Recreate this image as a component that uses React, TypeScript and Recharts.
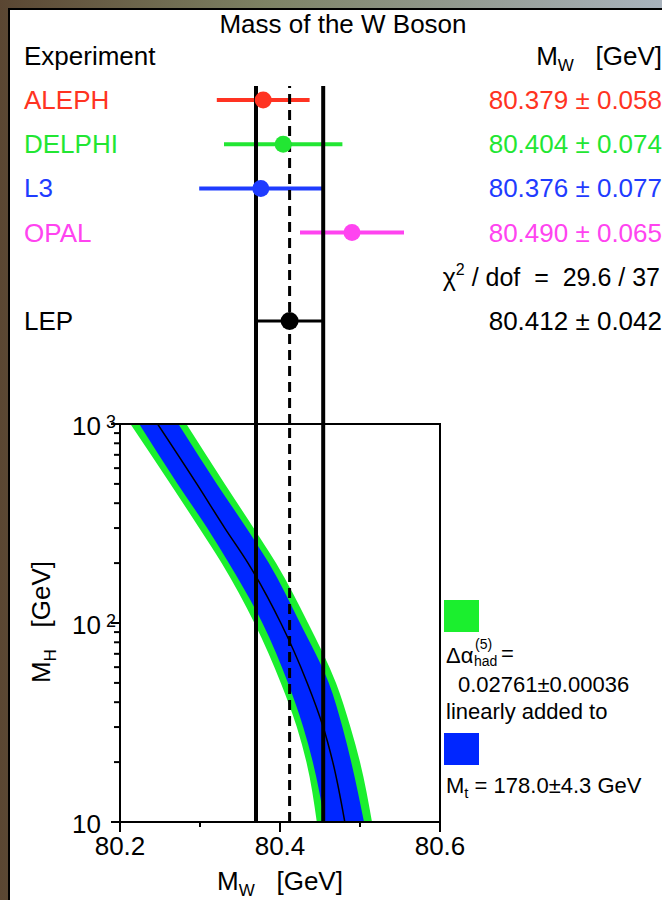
import React from "react";
import {
  ComposedChart,
  Scatter,
  ErrorBar,
  XAxis,
  YAxis,
  ReferenceLine,
  ReferenceArea,
  Area,
  Line,
} from "recharts";

// direct W mass measurements
const EXPERIMENTS = ["ALEPH", "DELPHI", "L3", "OPAL"];
const EXP_MW = [80.379, 80.404, 80.376, 80.49];
const EXP_ERR = [0.058, 0.074, 0.077, 0.065];
const EXP_COLORS = ["#ff3322", "#22e633", "#1f3cff", "#ff44f0"];

const LEP_MW = 80.412;
const LEP_ERR = 0.042;
const CHI2 = 29.6;
const DOF = 37;

// SM prediction of MW vs MH (MH descending), band edges in GeV
const MH_GRID = [1000, 500, 300, 200, 100, 50, 30, 20, 10];
const MW_CENTRE = [80.247, 80.296, 80.331, 80.36, 80.401, 80.434, 80.454, 80.466, 80.481];
const MW_TOP_LO = [80.224, 80.272, 80.309, 80.336, 80.378, 80.41, 80.429, 80.441, 80.456];
const MW_TOP_HI = [80.273, 80.321, 80.358, 80.386, 80.425, 80.461, 80.478, 80.489, 80.505];
const MW_ALPHA_LO = [80.213, 80.263, 80.299, 80.327, 80.368, 80.401, 80.421, 80.433, 80.446];
const MW_ALPHA_HI = [80.283, 80.331, 80.367, 80.395, 80.435, 80.47, 80.488, 80.5, 80.515];

const X_TICKS = [80.2, 80.3, 80.4, 80.5, 80.6];
const X_LABELLED = [80.2, 80.4, 80.6];
const Y_TICKS = [10, 20, 30, 40, 50, 60, 70, 80, 90, 100, 200, 300, 400, 500, 600, 700, 800, 900, 1000];

const W = 662;
const H = 900;
const PLOT_L = 120;
const PLOT_R = 440;
const UP_TOP = 86;
const SPLIT = 424;
const LOW_BOTTOM = 822;
const ROW0_Y = 100;
const ROW_STEP = 44.2;
const FONT = "'Liberation Sans', Arial, sans-serif";
const FS = 26;

const GREEN = "#1bef2e";
const BLUE = "#0026ff";

const rowLo = -(ROW0_Y - UP_TOP) / ROW_STEP;
const rowHi = rowLo + (SPLIT - UP_TOP) / ROW_STEP;
const LEP_ROW = 5;
const CHI_ROW = 4;

const expData = EXPERIMENTS.map((name, i) => ({ name, mw: EXP_MW[i], err: EXP_ERR[i], row: i }));
const lepData = [{ name: "LEP", mw: LEP_MW, err: LEP_ERR, row: LEP_ROW }];

const bandData = MH_GRID.map((mh, i) => ({
  mh,
  centre: MW_CENTRE[i],
  top: [MW_TOP_LO[i], MW_TOP_HI[i]],
  alpha: [MW_ALPHA_LO[i], MW_ALPHA_HI[i]],
}));

const fmt = (v: number, e: number) => `${v.toFixed(3)} \u00b1 ${e.toFixed(3)}`;

const RowTick = (props: any) => {
  const { y, payload } = props;
  const row = payload.value;
  const by = y + 9;
  if (row === CHI_ROW) {
    return (
      <text x={660} y={by} textAnchor="end" fontSize={25} fontFamily={FONT} fill="#000" style={{ whiteSpace: "pre" }}>
        <tspan>{"\u03c7"}</tspan>
        <tspan fontSize={16} dy={-11}>2</tspan>
        <tspan dy={11}>{` / dof  =  ${CHI2} / ${DOF}`}</tspan>
      </text>
    );
  }
  const isLep = row === LEP_ROW;
  const name = isLep ? "LEP" : EXPERIMENTS[row];
  const color = isLep ? "#000" : EXP_COLORS[row];
  const value = isLep ? fmt(LEP_MW, LEP_ERR) : fmt(EXP_MW[row], EXP_ERR[row]);
  return (
    <g>
      <text x={24} y={by} fontSize={FS} fontFamily={FONT} fill={color}>{name}</text>
      <text x={662} y={by} textAnchor="end" fontSize={FS} fontFamily={FONT} fill={color}>{value}</text>
    </g>
  );
};

const XTick = (props: any) => {
  const { x, payload } = props;
  const major = X_LABELLED.includes(payload.value);
  return (
    <g>
      <line x1={x} x2={x} y1={LOW_BOTTOM} y2={LOW_BOTTOM + (major ? 10 : 5)} stroke="#000" strokeWidth={2} />
      {major && (
        <text x={x} y={LOW_BOTTOM + 33} textAnchor="middle" fontSize={FS} fontFamily={FONT} fill="#000">
          {payload.value.toFixed(1)}
        </text>
      )}
    </g>
  );
};

const YTick = (props: any) => {
  const { y, payload } = props;
  const v = payload.value;
  const exp = Math.round(Math.log10(v));
  const major = Math.abs(Math.log10(v) - exp) < 1e-6;
  return (
    <g>
      <line x1={PLOT_L - (major ? 9 : 6)} x2={PLOT_L} y1={y} y2={y} stroke="#000" strokeWidth={2} />
      {major && (
        <text x={101} y={y + 11} textAnchor="end" fontSize={FS} fontFamily={FONT} fill="#000">10</text>
      )}
      {major && exp > 1 && (
        <text x={106} y={y + 4} fontSize={18} fontFamily={FONT} fill="#000">{exp}</text>
      )}
    </g>
  );
};

const boundLines = [
  { x: LEP_MW - LEP_ERR, dash: undefined, w: 4 },
  { x: LEP_MW + LEP_ERR, dash: undefined, w: 4 },
  { x: LEP_MW, dash: "10 6", w: 3 },
];

export default function App() {
  return (
    <div
      style={{
        position: "absolute",
        left: 0,
        top: 0,
        width: W,
        height: H,
        overflow: "hidden",
        background: "linear-gradient(90deg, #5a4632 0%, #7d8264 40%, #a9b3bd 100%)",
        fontFamily: FONT,
      }}
    >
      <div
        style={{
          position: "absolute",
          left: 8,
          top: 8,
          width: W - 10,
          height: H - 10,
          background: "#fff",
          borderLeft: "2px solid #000",
          borderTop: "2px solid #000",
        }}
      />

      {/* measurements */}
      <div style={{ position: "absolute", left: 0, top: 0 }}>
        <ComposedChart
          width={W}
          height={SPLIT}
          margin={{ top: UP_TOP, bottom: 0, left: PLOT_L - 100, right: W - PLOT_R }}
        >
          <XAxis type="number" dataKey="mw" domain={[80.2, 80.6]} allowDataOverflow hide />
          <YAxis
            type="number"
            dataKey="row"
            domain={[rowLo, rowHi]}
            allowDataOverflow
            reversed
            width={100}
            ticks={[0, 1, 2, 3, 4, 5]}
            interval={0}
            axisLine={false}
            tickLine={false}
            tick={RowTick}
          />
          {expData.map((d, i) => (
            <Scatter
              key={d.name}
              data={[d]}
              isAnimationActive={false}
              shape={(p: any) => <circle cx={p.cx} cy={p.cy} r={8.5} fill={EXP_COLORS[i]} />}
            >
              <ErrorBar dataKey="err" direction="x" width={0} stroke={EXP_COLORS[i]} strokeWidth={4} isAnimationActive={false} />
            </Scatter>
          ))}
          <Scatter
            data={lepData}
            isAnimationActive={false}
            shape={(p: any) => <circle cx={p.cx} cy={p.cy} r={9} fill="#000" />}
          >
            <ErrorBar dataKey="err" direction="x" width={0} stroke="#000" strokeWidth={3} isAnimationActive={false} />
          </Scatter>
          {boundLines.map((l) => (
            <ReferenceLine key={l.x} x={l.x} stroke="#000" strokeWidth={l.w} strokeDasharray={l.dash} />
          ))}
        </ComposedChart>
      </div>

      {/* SM band vs Higgs mass */}
      <div style={{ position: "absolute", left: 0, top: 0 }}>
        <ComposedChart
          layout="vertical"
          width={W}
          height={H}
          data={bandData}
          margin={{ top: SPLIT, bottom: H - LOW_BOTTOM - 40, left: PLOT_L - 60, right: W - PLOT_R }}
        >
          <XAxis
            type="number"
            domain={[80.2, 80.6]}
            allowDataOverflow
            ticks={X_TICKS}
            interval={0}
            height={40}
            axisLine={false}
            tickLine={false}
            tick={XTick}
          />
          <YAxis
            type="number"
            dataKey="mh"
            scale="log"
            domain={[10, 1000]}
            allowDataOverflow
            reversed
            ticks={Y_TICKS}
            interval={0}
            width={60}
            axisLine={false}
            tickLine={false}
            tick={YTick}
          />
          <Area dataKey="alpha" type="monotone" fill={GREEN} fillOpacity={1} stroke="none" isAnimationActive={false} />
          <Area dataKey="top" type="monotone" fill={BLUE} fillOpacity={1} stroke="none" isAnimationActive={false} />
          <Line dataKey="centre" type="monotone" stroke="#000" strokeWidth={1.5} dot={false} isAnimationActive={false} />
          {boundLines.map((l) => (
            <ReferenceLine key={l.x} x={l.x} stroke="#000" strokeWidth={l.w} strokeDasharray={l.dash} />
          ))}
          <ReferenceArea x1={80.2} x2={80.6} y1={10} y2={1000} fill="none" stroke="#000" strokeWidth={2} fillOpacity={0} />
        </ComposedChart>
      </div>

      {/* titles and legend */}
      <svg
        width={W}
        height={H}
        style={{ position: "absolute", left: 0, top: 0, pointerEvents: "none" }}
        fontFamily={FONT}
      >
        <text x={343} y={33} textAnchor="middle" fontSize={FS} fill="#000">Mass of the W Boson</text>
        <text x={24} y={65} fontSize={FS} fill="#000">Experiment</text>
        <text x={662} y={65} textAnchor="end" fontSize={FS} fill="#000" style={{ whiteSpace: "pre" }}>
          <tspan>M</tspan>
          <tspan fontSize={17} dy={6}>W</tspan>
          <tspan dy={-6}>{"   [GeV]"}</tspan>
        </text>

        <text x={280} y={890} textAnchor="middle" fontSize={FS} fill="#000" style={{ whiteSpace: "pre" }}>
          <tspan>M</tspan>
          <tspan fontSize={17} dy={6}>W</tspan>
          <tspan dy={-6}>{"   [GeV]"}</tspan>
        </text>
        <text
          x={0}
          y={0}
          transform="translate(50 622) rotate(-90)"
          textAnchor="middle"
          fontSize={FS}
          fill="#000"
          style={{ whiteSpace: "pre" }}
        >
          <tspan>M</tspan>
          <tspan fontSize={17} dy={6}>H</tspan>
          <tspan dy={-6}>{"   [GeV]"}</tspan>
        </text>

        <rect x={444} y={600} width={35} height={32} fill={GREEN} />
        <text x={446} y={663} fontSize={22} fill="#000">{"\u0394\u03b1"}</text>
        <text x={475} y={649} fontSize={14} fill="#000">(5)</text>
        <text x={474} y={666} fontSize={14} fill="#000">had</text>
        <text x={501} y={661} fontSize={22} fill="#000">=</text>
        <text x={458} y={692} fontSize={22} fill="#000">0.02761±0.00036</text>
        <text x={446} y={719} fontSize={22} fill="#000">linearly added to</text>
        <rect x={444} y={733} width={35} height={32} fill={BLUE} />
        <text x={446} y={793} fontSize={22} fill="#000" style={{ whiteSpace: "pre" }}>
          <tspan>M</tspan>
          <tspan fontSize={15} dy={5}>t</tspan>
          <tspan dy={-5}>{" = 178.0±4.3 GeV"}</tspan>
        </text>
      </svg>
    </div>
  );
}
